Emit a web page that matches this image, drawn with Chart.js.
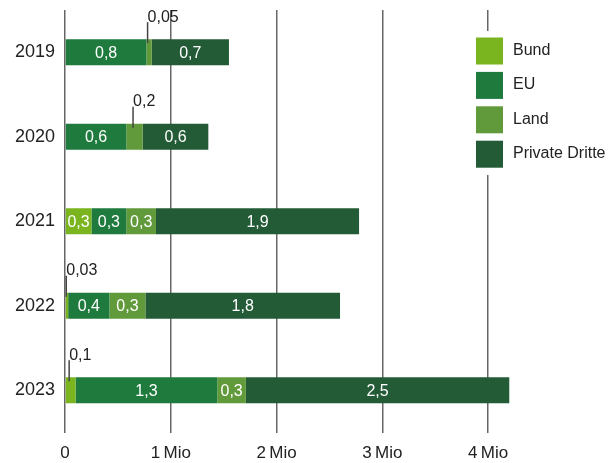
<!DOCTYPE html>
<html>
<head>
<meta charset="utf-8">
<script src="https://cdn.jsdelivr.net/npm/chart.js@4/dist/chart.umd.min.js"></script>
<style>
  html, body { margin: 0; padding: 0; background: #fff; }
  #wrap { width: 612px; height: 463px; }
</style>
</head>
<body>
<div id="wrap"><canvas id="chart" width="612" height="463"></canvas></div>
<script>
// Daten (Mio Euro)
const years = ['2019', '2020', '2021', '2022', '2023'];
const bund = [0, 0, 0.25, 0.03, 0.1];
const eu = [0.77, 0.58, 0.33, 0.39, 1.34];
const land = [0.05, 0.155, 0.28, 0.34, 0.27];
const privateDritte = [0.73, 0.62, 1.92, 1.84, 2.49];
const tickLabels = ['0', '1\u2009Mio', '2\u2009Mio', '3\u2009Mio', '4\u2009Mio'];

const fontFamily = '"Liberation Sans", Arial, sans-serif';

// Zahl im deutschen Format
function formatValue(v) {
    const dec = v < 0.095 ? 2 : 1;
    return v.toFixed(dec).replace('.', ',');
}

// Beschriftung der Segmente (innen oder oberhalb mit Linie)
const segmentLabels = {
    id: 'segmentLabels',
    afterDatasetsDraw(chart) {
        const ctx = chart.ctx;
        ctx.save();
        ctx.font = '16px ' + fontFamily;
        chart.data.datasets.forEach((ds, di) => {
            const meta = chart.getDatasetMeta(di);
            meta.data.forEach((bar, i) => {
                const v = ds.data[i];
                if (!v) return;
                const left = Math.min(bar.base, bar.x);
                const w = Math.abs(bar.x - bar.base);
                const top = bar.y - bar.height / 2;
                if (w > 20) {
                    ctx.fillStyle = '#ffffff';
                    ctx.textAlign = 'center';
                    ctx.textBaseline = 'middle';
                    ctx.fillText(formatValue(v), left + w / 2, bar.y + 1);
                } else {
                    const lx = Math.max(left + 0.5, left + w / 2 - 1.5);
                    ctx.strokeStyle = '#444';
                    ctx.lineWidth = 1.5;
                    ctx.beginPath();
                    ctx.moveTo(lx, top - 17);
                    ctx.lineTo(lx, top + 4);
                    ctx.stroke();
                    ctx.fillStyle = '#222';
                    ctx.textAlign = 'left';
                    ctx.textBaseline = 'middle';
                    ctx.fillText(formatValue(v), lx, top - 22);
                }
            });
        });
        ctx.restore();
    }
};

// Legende rechts oben mit weissem Hintergrund
const boxLegend = {
    id: 'boxLegend',
    afterDraw(chart) {
        const ctx = chart.ctx;
        ctx.save();
        ctx.fillStyle = '#ffffff';
        ctx.fillRect(470, 31, 142, 144);
        ctx.font = '16px ' + fontFamily;
        ctx.textAlign = 'left';
        ctx.textBaseline = 'middle';
        chart.data.datasets.forEach((ds, di) => {
            const y = 37.5 + di * 34.4;
            ctx.fillStyle = ds.backgroundColor;
            ctx.fillRect(476, y, 27, 27);
            ctx.fillStyle = '#222';
            ctx.fillText(ds.label, 513, y + 13);
        });
        ctx.restore();
    }
};

new Chart(document.getElementById('chart'), {
    type: 'bar',
    data: {
        labels: years,
        datasets: [
            { label: 'Bund', data: bund, backgroundColor: '#7ab51f' },
            { label: 'EU', data: eu, backgroundColor: '#1e7a3d' },
            { label: 'Land', data: land, backgroundColor: '#619a3b' },
            { label: 'Private Dritte', data: privateDritte, backgroundColor: '#225b36' }
        ]
    },
    options: {
        indexAxis: 'y',
        responsive: false,
        animation: false,
        layout: { padding: { top: 10, right: 71, bottom: 0, left: 0 } },
        datasets: {
            bar: { categoryPercentage: 1, barPercentage: 0.31, borderWidth: 0 }
        },
        plugins: {
            legend: { display: false },
            tooltip: { enabled: false }
        },
        scales: {
            x: {
                stacked: true,
                min: 0,
                max: 4.5,
                border: { display: false },
                grid: { color: '#666', lineWidth: 1.5, drawTicks: false },
                ticks: {
                    stepSize: 1,
                    includeBounds: false,
                    padding: 11,
                    color: '#222',
                    font: { family: fontFamily, size: 17 },
                    callback: (v, i) => tickLabels[i]
                },
                afterFit: (scale) => { scale.height = 30.5; }
            },
            y: {
                stacked: true,
                border: { display: false },
                grid: { display: false },
                ticks: {
                    padding: 2,
                    color: '#222',
                    font: { family: fontFamily, size: 18 }
                },
                afterFit: (scale) => {
                    scale.width = 65;
                    scale.paddingTop = 0;
                    scale.paddingBottom = 0;
                }
            }
        }
    },
    plugins: [segmentLabels, boxLegend]
});
</script>
</body>
</html>
